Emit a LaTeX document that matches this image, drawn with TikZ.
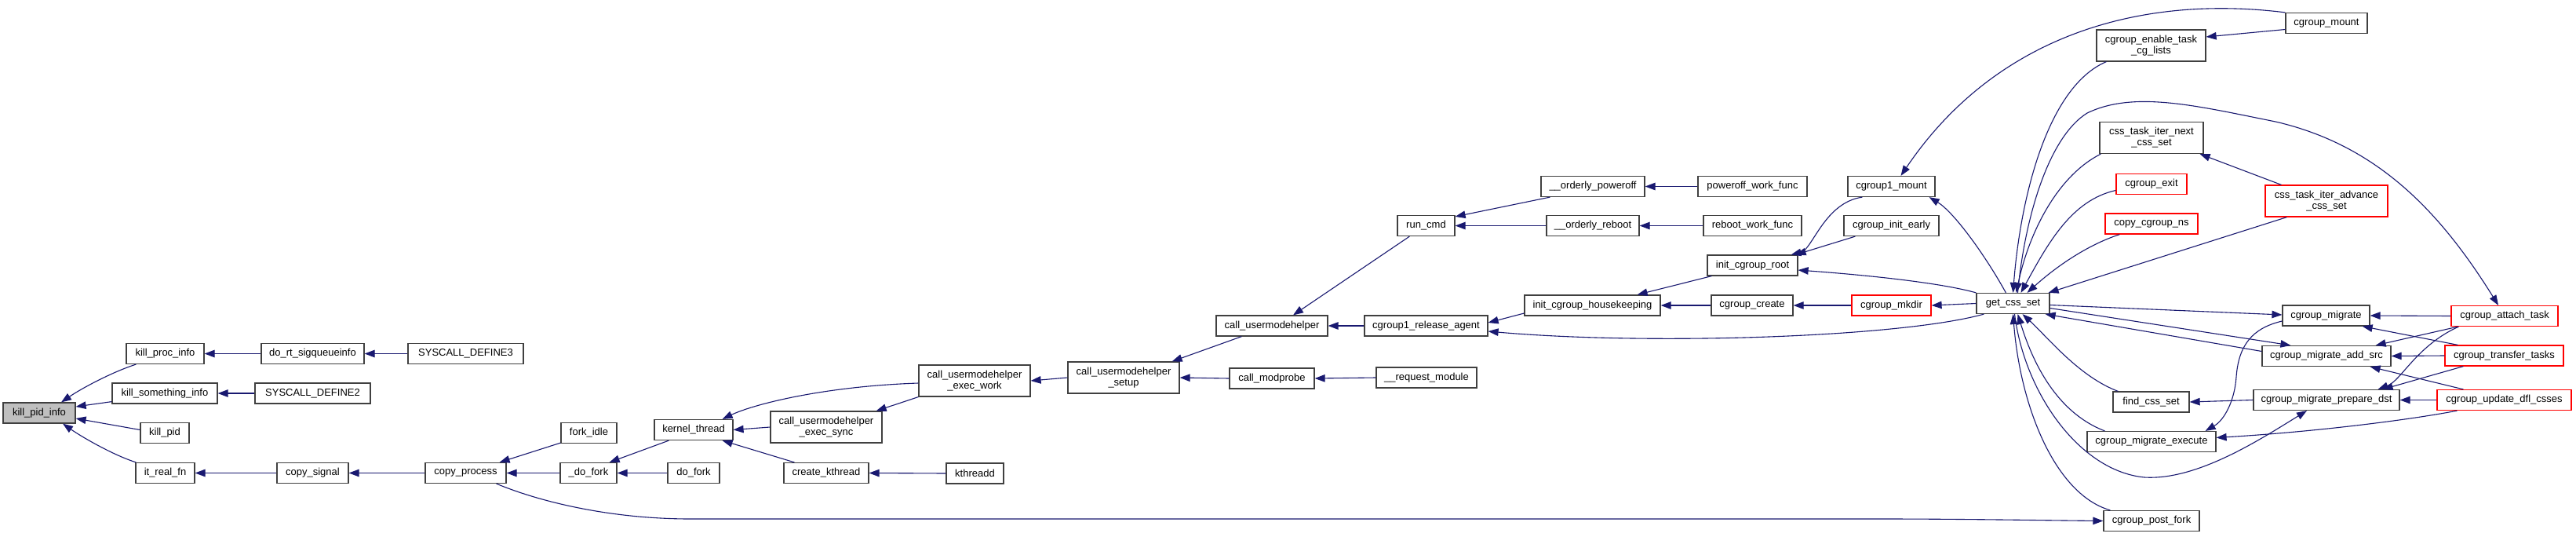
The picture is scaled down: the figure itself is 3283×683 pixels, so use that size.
\documentclass[tikz,border=0pt]{standalone}
\usepackage{fontspec}
\setmainfont{Liberation Sans}
\usetikzlibrary{arrows.meta}
\definecolor{edgecol}{HTML}{191970}
\definecolor{nodeborder}{HTML}{404040}
\definecolor{nodered}{HTML}{FF0000}
\definecolor{mainfill}{HTML}{BFBFBF}
\begin{document}
\begin{tikzpicture}[x=1pt,y=-1pt,
  box/.style={draw=nodeborder, line width=1.2pt, fill=white, inner sep=0pt,
    minimum height=26pt, font=\fontsize{13}{14}\selectfont, align=center, text=black},
  redbox/.style={box, draw=nodered},
  tall/.style={minimum height=40pt},
  e/.style={draw=edgecol, line width=1.1pt, >={Triangle[length=13pt,width=9.5pt]}, <-}]
\useasboundingbox (0,0) rectangle (3283,683);
\fill[white] (0,0) rectangle (3283,683);
% nodes
\node[box, fill=mainfill, minimum width=92pt] (kpi) at (50,526) {kill\_pid\_info};
\node[box, minimum width=99pt] (kproc) at (210.5,450.5) {kill\_proc\_info};
\node[box, minimum width=134pt] (kst) at (210,501) {kill\_something\_info};
\node[box, minimum width=62pt] (kpid) at (210,551.5) {kill\_pid};
\node[box, minimum width=75pt] (itr) at (210.5,602.5) {it\_real\_fn};
\node[box, minimum width=131pt] (dorts) at (398.5,450.5) {do\_rt\_sigqueueinfo};
\node[box, minimum width=147pt] (sys2) at (398.5,501) {SYSCALL\_DEFINE2};
\node[box, minimum width=91pt] (csig) at (398.5,602.5) {copy\_signal};
\node[box, minimum width=147pt] (sys3) at (593.5,450.5) {SYSCALL\_DEFINE3};
\node[box, minimum width=103pt] (cproc) at (593.5,602.5) {copy\_process};
\node[box, minimum width=71pt] (forkidle) at (750.5,551.5) {fork\_idle};
\node[box, minimum width=72pt] (dfork) at (750,602.5) {\_do\_fork};
\node[box, minimum width=100pt] (kthread) at (884,547.5) {kernel\_thread};
\node[box, minimum width=66pt] (dofork) at (884,602.5) {do\_fork};
\node[box, tall, minimum width=142pt] (umhsync) at (1053,544) {call\_usermodehelper\\\_exec\_sync};
\node[box, minimum width=108pt] (ckthread) at (1053,602.5) {create\_kthread};
\node[box, tall, minimum width=142pt] (umhwork) at (1242,485) {call\_usermodehelper\\\_exec\_work};
\node[box, minimum width=73pt] (kthreadd) at (1242.5,603) {kthreadd};
\node[box, tall, minimum width=142pt] (umhsetup) at (1432,481) {call\_usermodehelper\\\_setup};
\node[box, minimum width=142pt] (umh) at (1621,415) {call\_usermodehelper};
\node[box, minimum width=108pt] (modprobe) at (1621,482) {call\_modprobe};
\node[box, minimum width=73pt] (runcmd) at (1817.5,287.5) {run\_cmd};
\node[box, minimum width=157pt] (relagent) at (1817.5,415) {cgroup1\_release\_agent};
\node[box, minimum width=128pt] (reqmod) at (1818,481) {\_\_request\_module};
\node[box, minimum width=132pt] (poff) at (2030,237.5) {\_\_orderly\_poweroff};
\node[box, minimum width=118pt] (reboot) at (2030,287.5) {\_\_orderly\_reboot};
\node[box, minimum width=173pt] (hk) at (2029.5,389) {init\_cgroup\_housekeeping};
\node[box, minimum width=139pt] (poffw) at (2233.5,237.5) {poweroff\_work\_func};
\node[box, minimum width=125pt] (rebootw) at (2233.5,287.5) {reboot\_work\_func};
\node[box, minimum width=115pt] (icr) at (2233.5,338) {init\_cgroup\_root};
\node[box, minimum width=104pt] (ccreate) at (2233,389) {cgroup\_create};
\node[box, minimum width=111pt] (c1mount) at (2410.5,237.5) {cgroup1\_mount};
\node[box, minimum width=121pt] (cinit) at (2410.5,287.5) {cgroup\_init\_early};
\node[redbox, minimum width=101pt] (mkdir) at (2410.5,389) {cgroup\_mkdir};
\node[box, minimum width=93pt] (gcs) at (2565.5,386.5) {get\_css\_set};
\node[box, tall, minimum width=139pt] (enable) at (2741.5,58) {cgroup\_enable\_task\\\_cg\_lists};
\node[box, tall, minimum width=132pt] (next) at (2742,175.5) {css\_task\_iter\_next\\\_css\_set};
\node[redbox, minimum width=90pt] (cexit) at (2742,234.5) {cgroup\_exit};
\node[redbox, minimum width=118pt] (ccns) at (2742,285) {copy\_cgroup\_ns};
\node[box, minimum width=97pt] (findcss) at (2741.5,512) {find\_css\_set};
\node[box, minimum width=164pt] (mexec) at (2742,562.5) {cgroup\_migrate\_execute};
\node[box, minimum width=122pt] (postfork) at (2742,663.5) {cgroup\_post\_fork};
\node[box, minimum width=104pt] (cmount) at (2965,29.5) {cgroup\_mount};
\node[redbox, tall, minimum width=156pt] (advance) at (2965,256) {css\_task\_iter\_advance\\\_css\_set};
\node[box, minimum width=111pt] (migrate) at (2964.5,402) {cgroup\_migrate};
\node[box, minimum width=164pt] (addsrc) at (2965,453.5) {cgroup\_migrate\_add\_src};
\node[box, minimum width=186pt] (prepdst) at (2965,509.5) {cgroup\_migrate\_prepare\_dst};
\node[redbox, minimum width=136pt] (attach) at (3192,402.5) {cgroup\_attach\_task};
\node[redbox, minimum width=151pt] (transfer) at (3191.5,453) {cgroup\_transfer\_tasks};
\node[redbox, minimum width=171pt] (updfl) at (3191.5,509.5) {cgroup\_update\_dfl\_csses};
% edges (arrow at the first end)
\draw[e] ([xshift=28pt]kpi.north) .. controls (105,494) and (145,473) .. ([xshift=13pt]kproc.south west);
\draw[e] ([yshift=8pt]kpi.east) -- ([yshift=3pt]kst.south west);
\draw[e] ([yshift=-7pt]kpi.east) -- ([yshift=4pt]kpid.west);
\draw[e] ([xshift=30pt]kpi.south) .. controls (105,557) and (145,580) .. ([xshift=1pt]itr.north west);
\draw[e] (kproc.east) -- (dorts.west);
\draw[e] (dorts.east) -- (sys3.west);
\draw[e] (kst.east) -- (sys2.west);
\draw[e] (itr.east) -- (csig.west);
\draw[e] (csig.east) -- (cproc.west);
\draw[e] ([xshift=-9pt]cproc.north east) -- ([yshift=1pt]forkidle.south west);
\draw[e] (cproc.east) -- (dfork.west);
\draw[e] (postfork.west) .. controls (2620,663) and (2500,661) .. (2400,661) -- (880,661) .. controls (780,661) and (690,640) .. ([xshift=-13pt]cproc.south east);
\draw[e] ([xshift=-10pt]dfork.north east) -- ([xshift=19pt]kthread.south west);
\draw[e] (dfork.east) -- (dofork.west);
\draw[e] (kthread.east) -- (umhsync.west);
\draw[e] ([xshift=-14pt]kthread.south east) -- ([xshift=14pt]ckthread.north west);
\draw[e] ([xshift=-14pt]kthread.north east) .. controls (960,515) and (1050,492) .. ([yshift=-3pt]umhwork.west);
\draw[e] ([xshift=-8pt]umhsync.north east) -- (umhwork.south west);
\draw[e] (ckthread.east) -- (kthreadd.west);
\draw[e] (umhwork.east) -- (umhsetup.west);
\draw[e] ([xshift=-10pt]umhsetup.north east) -- ([xshift=33pt]umh.south west);
\draw[e] (umhsetup.east) -- (modprobe.west);
\draw[e] ([xshift=27pt]umh.north) -- ([xshift=16pt]runcmd.south west);
\draw[e] (umh.east) -- (relagent.west);
\draw[e] (modprobe.east) -- (reqmod.west);
\draw[e] ([yshift=-2pt]runcmd.north east) -- ([xshift=12pt]poff.south west);
\draw[e] (runcmd.east) -- (reboot.west);
\draw[e] (poff.east) -- (poffw.west);
\draw[e] (reboot.east) -- (rebootw.west);
\draw[e] ([yshift=4pt]relagent.east) -- ([yshift=-10pt]hk.west);
\draw[e] ([yshift=-7pt]relagent.east) .. controls (2100,440) and (2420,430) .. ([xshift=10pt]gcs.south west);
\draw[e] ([xshift=-30pt]hk.north east) -- ([xshift=6pt]icr.south west);
\draw[e] (hk.east) -- (ccreate.west);
\draw[e] ([xshift=-9pt]icr.north east) .. controls (2310,318) and (2325,258) .. ([xshift=19pt]c1mount.south west);
\draw[e] ([xshift=-3pt]icr.north east) -- ([xshift=15pt]cinit.south west);
\draw[e] ([yshift=-6pt]icr.east) .. controls (2400,352) and (2480,362) .. (gcs.north west);
\draw[e] (ccreate.east) -- (mkdir.west);
\draw[e] (mkdir.east) -- (gcs.west);
\draw[e] ([xshift=-8pt]c1mount.south east) .. controls (2490,270) and (2530,325) .. ([xshift=38pt]gcs.north west);
\draw[e] ([xshift=12pt]c1mount.north) .. controls (2540,50) and (2720,-8) .. (cmount.north west);
\draw[e] ([yshift=11pt]enable.east) -- ([yshift=-8pt]cmount.west);
\draw[e] (gcs.north) .. controls (2575,250) and (2610,110) .. ([xshift=13pt]enable.south west);
\draw[e] ([xshift=4pt]gcs.north) .. controls (2585,300) and (2620,225) .. ([xshift=2pt]next.south west);
\draw[e] ([xshift=10pt]gcs.north) .. controls (2610,310) and (2640,255) .. ([yshift=-8pt]cexit.west);
\draw[e] ([xshift=18pt]gcs.north) .. controls (2620,340) and (2660,312) .. ([xshift=19pt]ccns.south west);
\draw[e] ([xshift=-5pt]next.south east) -- ([xshift=21pt]advance.north west);
\draw[e] ([xshift=-2pt]gcs.north east) -- ([xshift=28pt]advance.south west);
\draw[e] ([xshift=-8pt]attach.north) .. controls (3110,270) and (3030,185) .. (2900,155) .. controls (2800,135) and (2720,115) .. (2660,144) .. controls (2610,175) and (2580,280) .. ([xshift=6pt]gcs.north);
\draw[e] ([yshift=1pt]migrate.west) -- ([yshift=-2pt]gcs.east);
\draw[e] ([xshift=37pt]addsrc.north west) -- ([yshift=-6pt]gcs.east);
\draw[e] ([xshift=-6pt]gcs.south east) -- ([yshift=6pt]addsrc.west);
\draw[e] ([xshift=12pt]gcs.south) .. controls (2610,430) and (2650,480) .. ([xshift=7pt]findcss.north west);
\draw[e] (findcss.east) -- (prepdst.west);
\draw[e] ([xshift=6pt]gcs.south) .. controls (2590,460) and (2620,525) .. ([xshift=23pt]mexec.north west);
\draw[e] (gcs.south) .. controls (2575,520) and (2620,630) .. ([xshift=9pt]postfork.north west);
\draw[e] ([xshift=-25pt]prepdst.south) .. controls (2880,560) and (2800,612) .. (2733,608) .. controls (2650,600) and (2580,500) .. ([xshift=2pt]gcs.south);
\draw[e] ([xshift=-14pt]mexec.north east) .. controls (2835,535) and (2848,510) .. (2850,480) .. controls (2853,440) and (2870,418) .. ([yshift=-7pt]migrate.west);
\draw[e] ([yshift=5pt]mexec.east) .. controls (2950,550) and (3070,535) .. ([xshift=26pt]updfl.south west);
\draw[e] (migrate.east) -- (attach.west);
\draw[e] ([xshift=-10pt]migrate.south east) -- ([xshift=17pt]transfer.north west);
\draw[e] ([xshift=-20pt]addsrc.north east) -- ([xshift=9pt]attach.south west);
\draw[e] (addsrc.east) -- (transfer.west);
\draw[e] ([xshift=-27pt]addsrc.south east) -- ([xshift=34pt]updfl.north west);
\draw[e] ([xshift=-28pt]prepdst.north east) .. controls (3060,485) and (3080,440) .. ([xshift=10pt]attach.south west);
\draw[e] ([xshift=-22pt]prepdst.north east) -- ([xshift=24pt]transfer.south west);
\draw[e] (prepdst.east) -- (updfl.west);
\end{tikzpicture}
\end{document}
